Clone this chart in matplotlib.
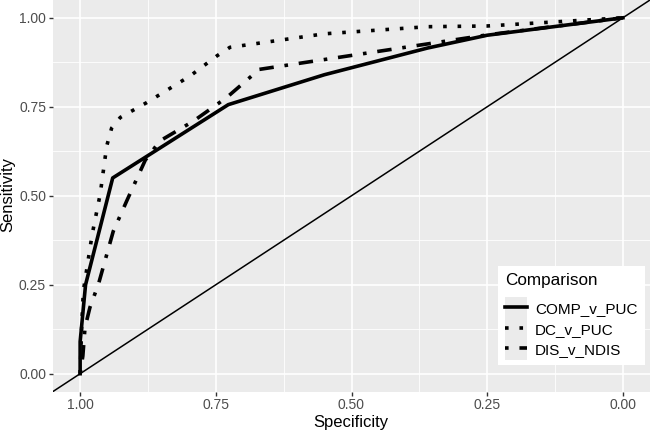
import matplotlib.pyplot as plt
from matplotlib.legend_handler import HandlerLine2D
from matplotlib.patches import Rectangle

plt.rcParams['font.family'] = ['Liberation Sans', 'DejaVu Sans']

# ROC curves: specificity (x, reversed) vs sensitivity (y)
comp_spec = [1.00, 1.00, 0.99, 0.94, 0.727, 0.55, 0.36, 0.25, 0.00]
comp_sens = [0.00, 0.09, 0.25, 0.55, 0.756, 0.84, 0.915, 0.951, 1.00]

dc_spec = [1.00, 0.997, 0.994, 0.978, 0.963, 0.951, 0.942, 0.926, 0.877, 0.797, 0.748, 0.724, 0.55, 0.36, 0.25, 0.00]
dc_sens = [0.00, 0.14, 0.233, 0.39, 0.505, 0.64, 0.69, 0.72, 0.762, 0.837, 0.893, 0.917, 0.955, 0.975, 0.977, 1.00]

dis_spec = [1.00, 0.995, 0.991, 0.982, 0.966, 0.939, 0.914, 0.88, 0.853, 0.791, 0.73, 0.67, 0.25, 0.00]
dis_sens = [0.00, 0.05, 0.13, 0.186, 0.253, 0.40, 0.486, 0.60, 0.654, 0.71, 0.776, 0.855, 0.952, 1.00]

ticks = [1.00, 0.75, 0.50, 0.25, 0.00]
tick_labels = ["1.00", "0.75", "0.50", "0.25", "0.00"]

KEY_PAD = 2.5  # px the grey key square extends above/below the handle box


class KeyHandler(HandlerLine2D):
    # ggplot-like legend key: grey square behind the line sample
    def create_artists(self, legend, orig_handle, xdescent, ydescent, width, height, fontsize, trans):
        bg = Rectangle((-xdescent, -ydescent - KEY_PAD), width, height + 2 * KEY_PAD,
                       facecolor="#EBEBEB", edgecolor="none", transform=trans)
        arts = super().create_artists(legend, orig_handle, xdescent, ydescent, width, height, fontsize, trans)
        return [bg] + list(arts)


W, H = 650, 433
fig = plt.figure(figsize=(6.5, 4.33), dpi=100)
ax = fig.add_axes([53 / W, 1 - 391.5 / H, 597 / W, 391.5 / H])
ax.set_facecolor("#EBEBEB")

ax.set_xlim(1.05, -0.05)
ax.set_ylim(-0.05, 1.05)
ax.set_xticks(ticks)
ax.set_xticklabels(tick_labels)
ax.set_yticks(ticks)
ax.set_yticklabels(tick_labels)
ax.set_xticks([0.875, 0.625, 0.375, 0.125], minor=True)
ax.set_yticks([0.875, 0.625, 0.375, 0.125], minor=True)
ax.grid(True, which="major", color="white", linewidth=1.2)
ax.grid(True, which="minor", color="white", linewidth=0.6)
ax.set_axisbelow(True)
for s in ax.spines.values():
    s.set_visible(False)
ax.tick_params(which="major", length=3, color="#333333", labelsize=10, labelcolor="#4D4D4D", width=1, pad=2)
ax.tick_params(which="minor", length=0)

# reference diagonal across the panel
ax.axline((1.0, 0.0), (0.0, 1.0), color="black", linewidth=1.1)

lw = 2.6
ax.plot(comp_spec, comp_sens, color="black", linewidth=lw, linestyle="-", label="COMP_v_PUC")
ax.plot(dc_spec, dc_sens, color="black", linewidth=lw, linestyle=(0, (1, 3)), label="DC_v_PUC")
ax.plot(dis_spec, dis_sens, color="black", linewidth=lw, linestyle=(0, (1, 3, 4, 3)), label="DIS_v_NDIS")

ax.set_xlabel("Specificity", fontsize=12)
ax.set_ylabel("Sensitivity", fontsize=12)
ax.xaxis.label.set_va("center")
ax.yaxis.label.set_va("center")
ax.xaxis.set_label_coords((351 - 53) / 597, -(423 - 391.5) / 391.5)
ax.yaxis.set_label_coords(-(53 - 8) / 597, (391.5 - 195) / 391.5)

leg = ax.legend(title="Comparison", loc="lower right",
                bbox_to_anchor=((645 - 53) / 597, (391.5 - 365) / 391.5),
                frameon=True, fontsize=11, title_fontsize=12.3,
                handlelength=1.44, handleheight=1.1, handletextpad=0.5,
                borderpad=0.5, labelspacing=0.33,
                fancybox=False, borderaxespad=0,
                handler_map={plt.Line2D: KeyHandler()})
leg._legend_box.align = "left"
leg._legend_box.sep = 9
leg.get_frame().set_facecolor("white")
leg.get_frame().set_edgecolor("none")
leg.get_frame().set_alpha(1)

fig.savefig("out.png", dpi=100)
